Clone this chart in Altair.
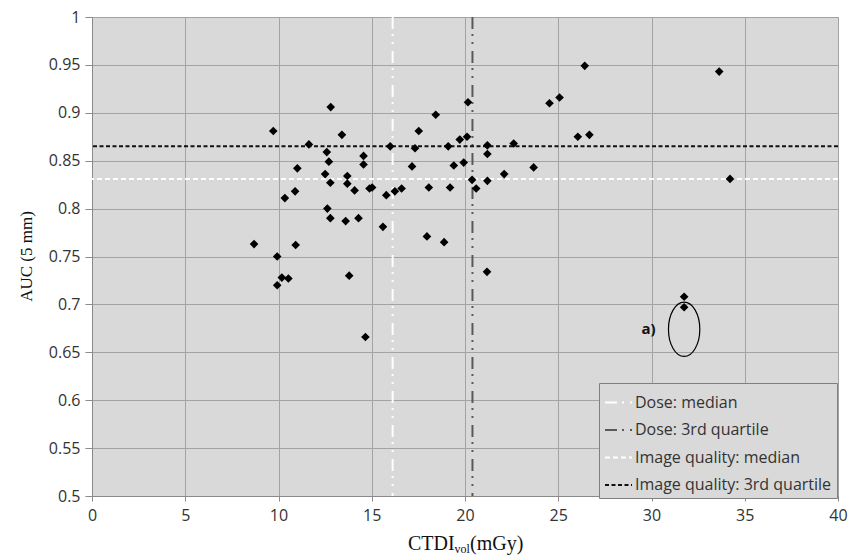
import altair as alt
import pandas as pd

# --- data ---
ctdi = [12.80, 9.72, 13.40, 11.63, 15.99, 17.52, 17.32, 12.59, 12.70, 14.56,
        14.56, 11.01, 17.16, 12.50, 12.78, 13.69, 13.69, 14.08, 14.88, 15.02,
        10.89, 10.34, 15.78, 16.24, 16.60, 18.06, 12.62, 12.78, 13.60, 14.29,
        15.60, 17.96, 18.88, 8.69, 10.92, 9.93, 10.18, 10.53, 9.93, 13.79,
        14.66, 18.43, 19.20, 19.10, 19.72, 20.11, 20.16, 19.40, 19.93, 20.38,
        20.60, 21.20, 21.20, 21.20, 22.10, 22.61, 23.68, 24.53, 25.07, 26.05,
        26.67, 26.42, 21.18, 33.63, 34.21, 31.75, 31.75]
auc = [0.906, 0.881, 0.877, 0.867, 0.865, 0.881, 0.863, 0.859, 0.849, 0.855,
       0.846, 0.842, 0.844, 0.836, 0.827, 0.834, 0.826, 0.819, 0.821, 0.822,
       0.818, 0.811, 0.814, 0.818, 0.821, 0.822, 0.800, 0.790, 0.787, 0.790,
       0.781, 0.771, 0.765, 0.763, 0.762, 0.750, 0.728, 0.727, 0.720, 0.730,
       0.666, 0.898, 0.822, 0.865, 0.872, 0.875, 0.911, 0.845, 0.848, 0.830,
       0.821, 0.866, 0.857, 0.829, 0.836, 0.868, 0.843, 0.910, 0.916, 0.875,
       0.877, 0.949, 0.734, 0.943, 0.831, 0.708, 0.697]

line_names = ["Dose: median", "Dose: 3rd quartile",
              "Image quality: median", "Image quality: 3rd quartile"]
line_orient = ["v", "v", "h", "h"]
line_values = [16.12, 20.40, 0.831, 0.865]

ellipse_x = [31.75]
ellipse_y = [0.674]
label_x = [29.84]
label_y = [0.674]
label_text = ["a)"]

# --- tables ---
pts = pd.DataFrame({"ctdi": ctdi, "auc": auc})
lines = pd.DataFrame({"name": line_names, "orient": line_orient, "value": line_values})
vlines = lines[lines.orient == "v"]
hlines = lines[lines.orient == "h"]

xscale = alt.Scale(domain=[0, 40], nice=False, zero=False)
yscale = alt.Scale(domain=[0.5, 1.0], nice=False, zero=False)

color_scale = alt.Scale(domain=line_names,
                        range=["#ffffff", "#595959", "#ffffff", "#111111"])
dash_scale = alt.Scale(domain=line_names,
                       range=[[12, 5, 2, 6, 2, 7], [12, 5, 2, 6, 2, 7], [5, 3], [4, 2.5]])

legend = alt.Legend(orient="none", legendX=507, legendY=366, title=None,
                    symbolType="stroke", symbolSize=729, symbolStrokeWidth=2,
                    labelFont="Open Sans", labelFontSize=16, labelColor="#333333",
                    labelOffset=2, labelLimit=400, fillColor="#d9d9d9",
                    strokeColor="#7f7f7f", padding=5, rowPadding=4.5)

xaxis = alt.Axis(values=[0, 5, 10, 15, 20, 25, 30, 35, 40], title=None,
                 grid=True, gridColor="#a3a3a3", gridWidth=1,
                 domainColor="#8a8a8a", tickColor="#8a8a8a", tickSize=5,
                 labelFont="Open Sans", labelFontSize=16, labelColor="#333333",
                 labelPadding=6, labelFlush=False)
yaxis = alt.Axis(values=[0.5, 0.55, 0.6, 0.65, 0.7, 0.75, 0.8, 0.85, 0.9, 0.95, 1.0],
                 format=".2~f", title="AUC (5 mm)",
                 grid=True, gridColor="#a3a3a3", gridWidth=1,
                 domainColor="#8a8a8a", tickColor="#8a8a8a", tickSize=7,
                 labelFont="Open Sans", labelFontSize=16, labelColor="#333333",
                 labelPadding=5, labelFlush=False,
                 titleFont="Liberation Serif", titleFontSize=17, titleFontWeight="normal",
                 titleColor="#111111", titleAngle=-90, titleX=-66, titleY=239,
                 titleAlign="center", titleBaseline="middle")

base_pts = alt.Chart(pts).mark_point(shape="diamond", filled=True, color="black",
                                     size=75, opacity=1).encode(
    x=alt.X("ctdi:Q", scale=xscale, axis=xaxis),
    y=alt.Y("auc:Q", scale=yscale, axis=yaxis),
)

vrules = alt.Chart(vlines).mark_rule(strokeWidth=2).encode(
    x=alt.X("value:Q", scale=xscale),
    color=alt.Color("name:N", scale=color_scale, legend=legend),
    strokeDash=alt.StrokeDash("name:N", scale=dash_scale, legend=legend),
)
hrules = alt.Chart(hlines).mark_rule(strokeWidth=2).encode(
    y=alt.Y("value:Q", scale=yscale),
    color=alt.Color("name:N", scale=color_scale, legend=legend),
    strokeDash=alt.StrokeDash("name:N", scale=dash_scale, legend=legend),
)

ell_df = pd.DataFrame({"x": ellipse_x, "y": ellipse_y})
ellipse = alt.Chart(ell_df).mark_point(
    shape="M0,-1A0.577,1,0,1,1,0,1A0.577,1,0,1,1,0,-1Z",
    size=2950, filled=False, color="black", strokeWidth=1.2, opacity=1
).encode(x=alt.X("x:Q", scale=xscale), y=alt.Y("y:Q", scale=yscale))

lab_df = pd.DataFrame({"x": label_x, "y": label_y, "t": label_text})
alabel = alt.Chart(lab_df).mark_text(font="Open Sans", fontSize=15, fontWeight="bold",
                                     color="#111111", align="center", baseline="middle").encode(
    x=alt.X("x:Q", scale=xscale), y=alt.Y("y:Q", scale=yscale), text="t:N")

# x-axis title with subscript, composed of three text pieces
t1 = alt.Chart(pd.DataFrame({"t": ["CTDI"]})).mark_text(
    font="Liberation Serif", fontSize=20, align="left", baseline="alphabetic", color="#111111"
).encode(x=alt.value(316), y=alt.value(533), text="t:N")
t2 = alt.Chart(pd.DataFrame({"t": ["vol"]})).mark_text(
    font="Liberation Serif", fontSize=12, align="left", baseline="alphabetic", color="#111111"
).encode(x=alt.value(362.5), y=alt.value(536), text="t:N")
t3 = alt.Chart(pd.DataFrame({"t": ["(mGy)"]})).mark_text(
    font="Liberation Serif", fontSize=20, align="left", baseline="alphabetic", color="#111111"
).encode(x=alt.value(378), y=alt.value(533), text="t:N")

chart = alt.layer(vrules, hrules, base_pts, ellipse, alabel, t1, t2, t3).resolve_scale(
    color="shared", strokeDash="shared"
).properties(
    width=746, height=479,
    autosize=alt.AutoSizeParams(type="none"),
    padding={"left": 92, "top": 17, "right": 22, "bottom": 59},
    background="white",
).configure_view(fill="#d9d9d9", stroke="#a3a3a3", strokeWidth=1)

chart.save("out.html", embed_options={"renderer": "svg", "actions": False})
